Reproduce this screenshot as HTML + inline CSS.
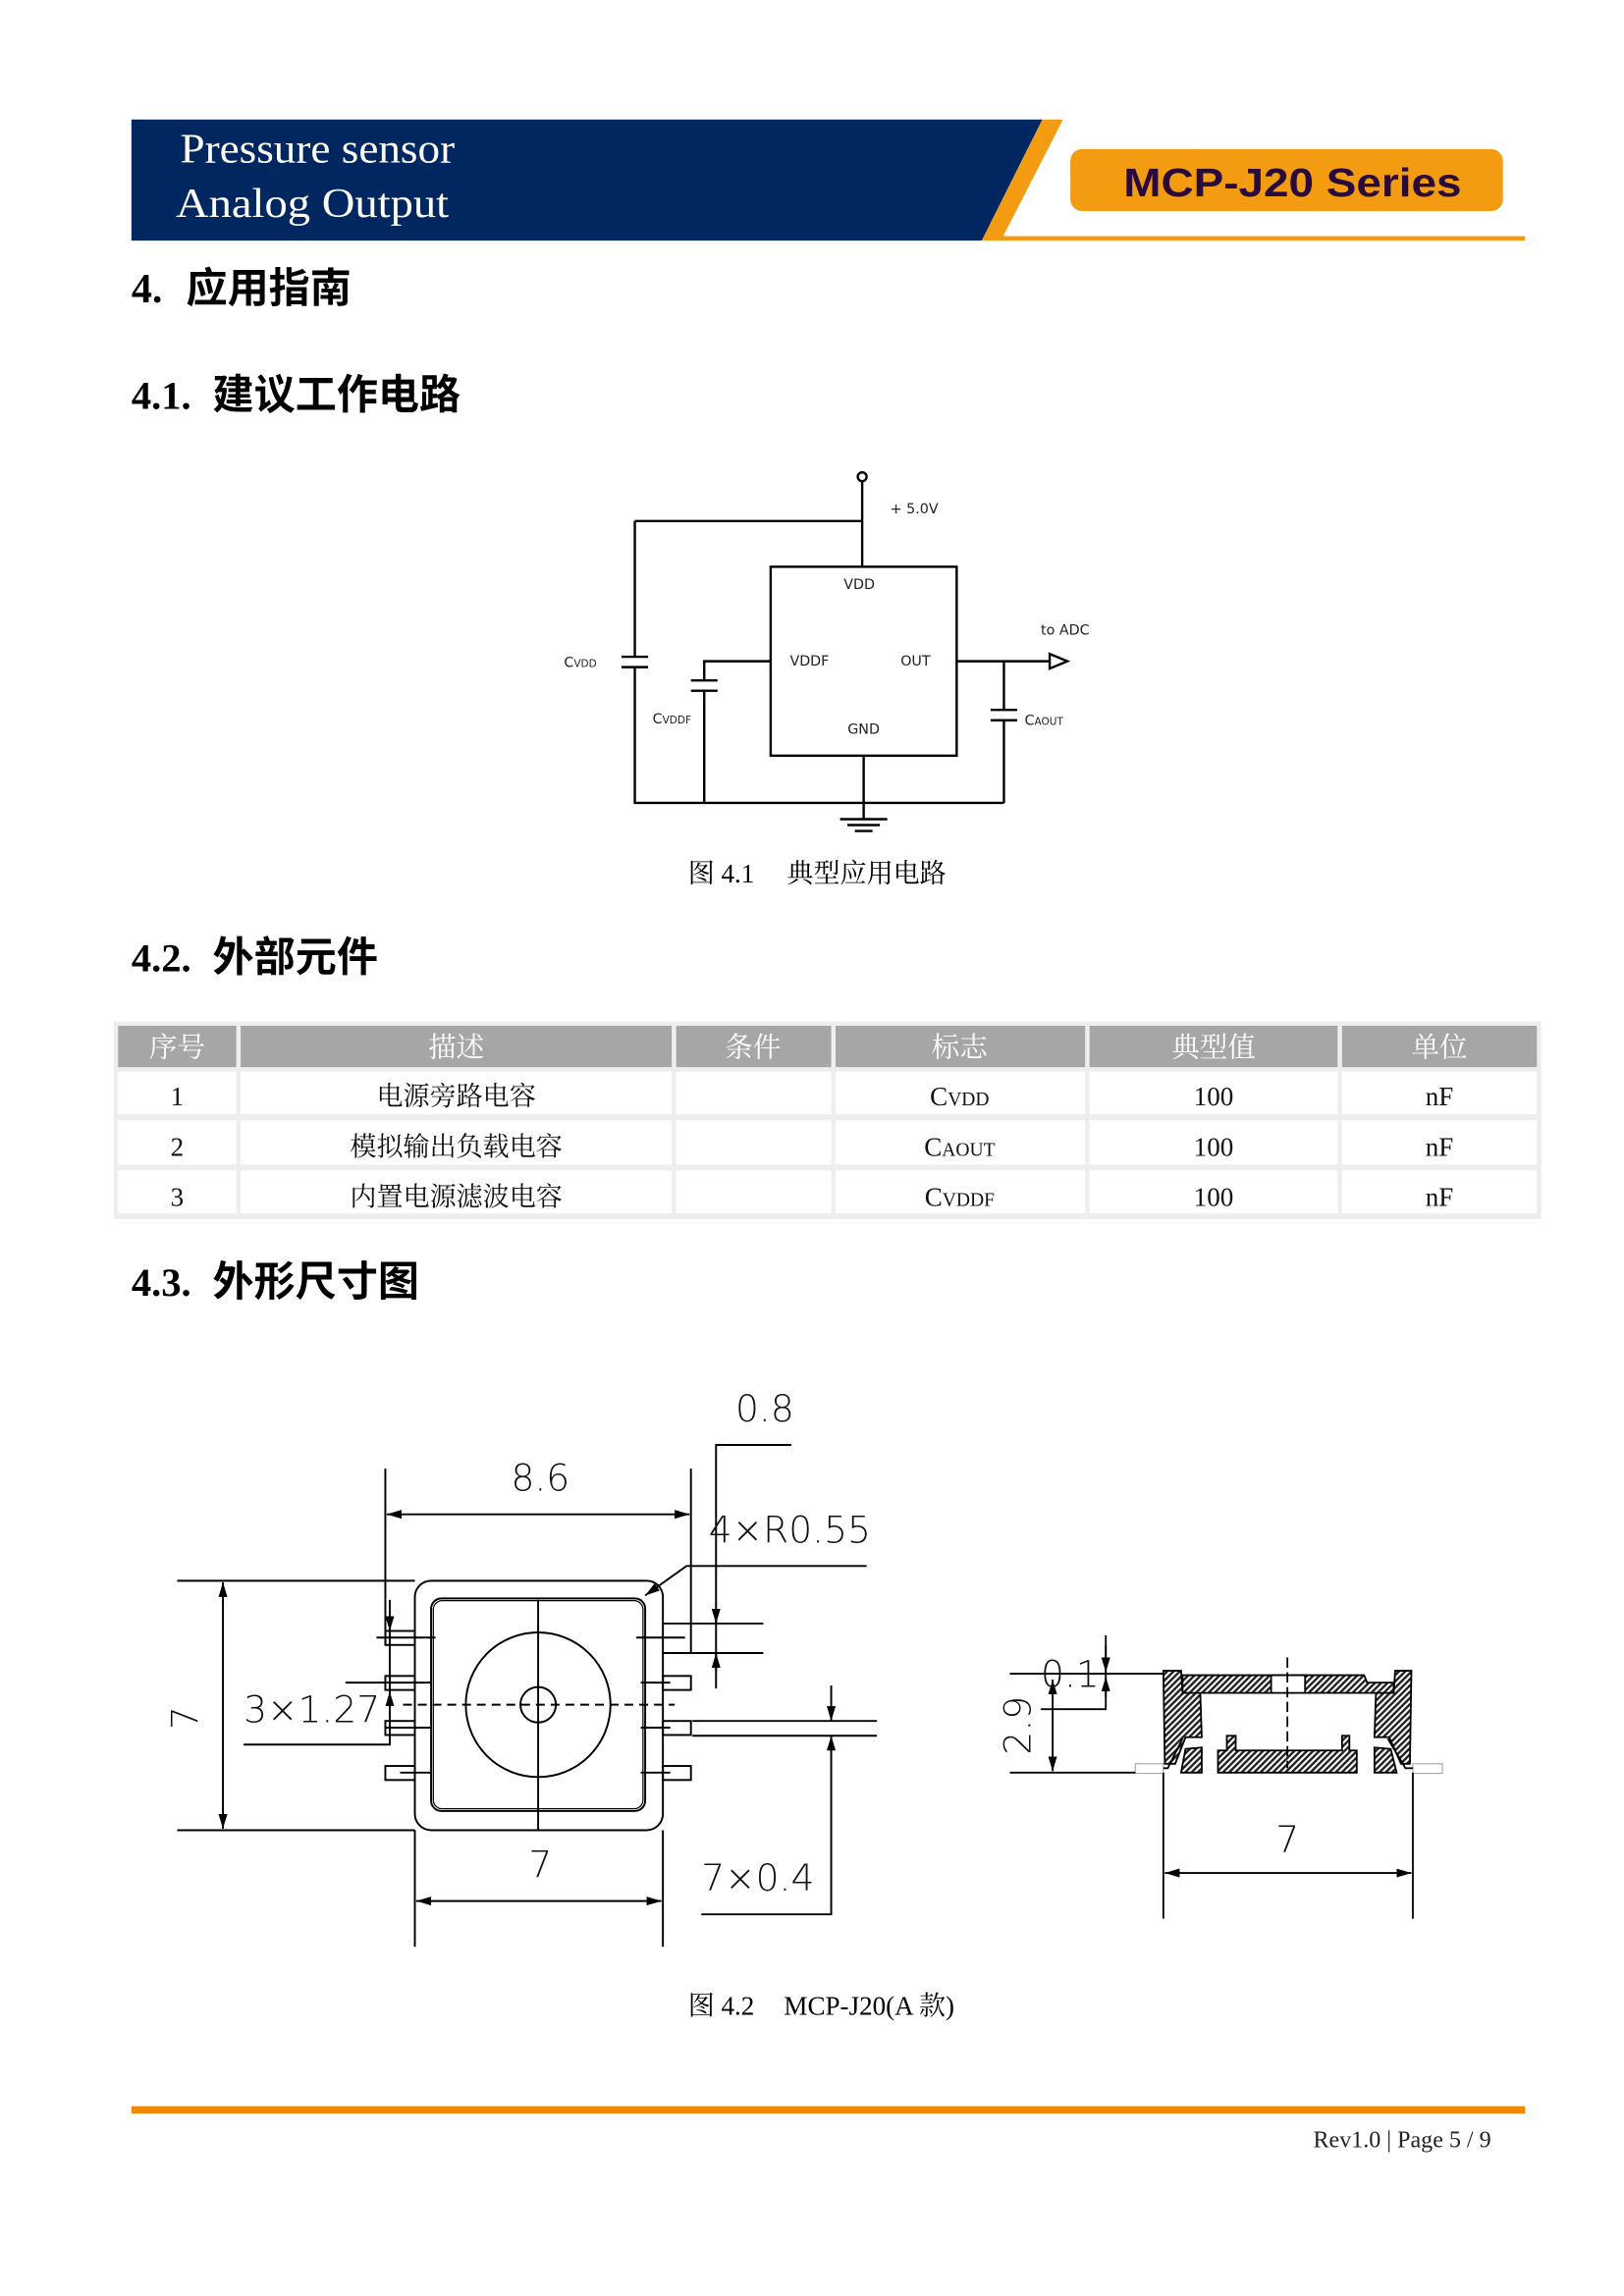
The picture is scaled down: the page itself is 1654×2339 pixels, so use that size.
<!DOCTYPE html>
<html><head><meta charset="utf-8"><style>
html,body{margin:0;padding:0;background:#fff}
svg{display:block}
.s{font-family:"Liberation Serif","Noto Serif CJK SC","Noto Sans CJK SC",serif}
.h{font-family:"Liberation Serif",serif;font-weight:bold}
.c{font-family:"Noto Sans CJK SC",sans-serif;font-weight:bold}
.a{font-family:"DejaVu Sans","Liberation Sans",sans-serif}
.d{font-family:"DejaVu Sans","Liberation Sans",sans-serif;font-weight:200}
</style></head><body>
<svg width="1654" height="2339" viewBox="0 0 1100 1555.6" xmlns="http://www.w3.org/2000/svg">
<defs>
<pattern id="ht" width="3" height="3" patternUnits="userSpaceOnUse" patternTransform="rotate(45)">
<rect width="3" height="3" fill="#fff"/><rect width="1.6" height="3" fill="#222"/></pattern>
<marker id="ar" viewBox="0 0 10 6" refX="10" refY="3" markerWidth="10" markerHeight="6" markerUnits="userSpaceOnUse" orient="auto-start-reverse"><path d="M0,0L10,3L0,6z" fill="#000"/></marker>
</defs>
<polygon points="89,81 706,81 665,163 89,163" fill="#012761"/>
<polygon points="706,81 720,81 679,161 665,163" fill="#f39c12"/>
<rect x="667" y="160" width="366" height="3" fill="#f39c12"/>
<rect x="725" y="101" width="293" height="42" rx="8" fill="#f39c12"/>
<text x="761" y="133" textLength="229" lengthAdjust="spacingAndGlyphs" font-family="Liberation Sans,sans-serif" font-weight="bold" font-size="27" fill="#2a0a3a">MCP-J20 Series</text>
<text x="122" y="110" textLength="186" lengthAdjust="spacingAndGlyphs" class="s" font-size="28" fill="#fff">Pressure sensor</text>
<text x="119" y="147" textLength="185" lengthAdjust="spacingAndGlyphs" class="s" font-size="28" fill="#fff">Analog Output</text>
<text x="89" y="205" class="h" font-size="28">4.</text><text x="126" y="205" class="c" font-size="28">应用指南</text>
<text x="89" y="277" class="h" font-size="27">4.1.</text><text x="144" y="277" class="c" font-size="28">建议工作电路</text>
<text x="89" y="658" class="h" font-size="27">4.2.</text><text x="144" y="658" class="c" font-size="28">外部元件</text>
<text x="89" y="878" class="h" font-size="27">4.3.</text><text x="144" y="878" class="c" font-size="28">外形尺寸图</text>
<g transform="translate(-4,-3)">
<g stroke="#000" stroke-width="1.6" fill="none">
<circle cx="588" cy="326" r="3"/>
<path d="M588,329V387M434,356H588M434,356V448M434,455V547H684M481,547V471M481,464V451H526M652,451H715M684,451V484M684,491V547M589,515V558"/>
<path d="M425,448H443M425,455H443M472,464H490M472,471H490M675,484H693M675,491H693M573,558H605M578,562H600M583,566H595" />
<rect x="526" y="387" width="126" height="128"/>
<path d="M715,446L727,451L715,456Z"/>
</g>
<g class="a" font-size="9.5" fill="#222">
<text x="607" y="351">+ 5.0V</text>
<text x="586" y="402" text-anchor="middle">VDD</text>
<text x="539" y="454">VDDF</text>
<text x="614" y="454">OUT</text>
<text x="589" y="500" text-anchor="middle">GND</text>
<text x="709" y="433">to ADC</text>
<text x="386" y="455">C<tspan font-size="7">VDD</tspan></text>
<text x="446" y="493">C<tspan font-size="7">VDDF</tspan></text>
<text x="698" y="494">C<tspan font-size="7">AOUT</tspan></text>
</g>
</g>
<text x="466" y="598" class="s" font-size="18">图 4.1</text>
<text x="533" y="598" class="s" font-size="18">典型应用电路</text>
<rect x="77" y="692" width="967" height="134" fill="#eee"/>
<g fill="#a6a6a6">
<rect x="80" y="695" width="80" height="28"/><rect x="163" y="695" width="292" height="28"/><rect x="458" y="695" width="105" height="28"/><rect x="566" y="695" width="169" height="28"/><rect x="738" y="695" width="168" height="28"/><rect x="909" y="695" width="132" height="28"/>
</g>
<g fill="#fff">
<rect x="80" y="726" width="80" height="29"/><rect x="163" y="726" width="292" height="29"/><rect x="458" y="726" width="105" height="29"/><rect x="566" y="726" width="169" height="29"/><rect x="738" y="726" width="168" height="29"/><rect x="909" y="726" width="132" height="29"/>
<rect x="80" y="759" width="80" height="30"/><rect x="163" y="759" width="292" height="30"/><rect x="458" y="759" width="105" height="30"/><rect x="566" y="759" width="169" height="30"/><rect x="738" y="759" width="168" height="30"/><rect x="909" y="759" width="132" height="30"/>
<rect x="80" y="793" width="80" height="29"/><rect x="163" y="793" width="292" height="29"/><rect x="458" y="793" width="105" height="29"/><rect x="566" y="793" width="169" height="29"/><rect x="738" y="793" width="168" height="29"/><rect x="909" y="793" width="132" height="29"/>
</g>
<g class="s" font-size="19" text-anchor="middle" fill="#fff">
<text x="120" y="716">序号</text><text x="309" y="716">描述</text><text x="510" y="716">条件</text><text x="650" y="716">标志</text><text x="822" y="716">典型值</text><text x="975" y="716">单位</text>
</g>
<g class="s" font-size="18" text-anchor="middle" fill="#111">
<text x="120" y="749">1</text><text x="309" y="749">电源旁路电容</text><text x="650" y="749">C<tspan font-size="13">VDD</tspan></text><text x="822" y="749">100</text><text x="975" y="749">nF</text>
<text x="120" y="783">2</text><text x="309" y="783">模拟输出负载电容</text><text x="650" y="783">C<tspan font-size="13">AOUT</tspan></text><text x="822" y="783">100</text><text x="975" y="783">nF</text>
<text x="120" y="817">3</text><text x="309" y="817">内置电源滤波电容</text><text x="650" y="817">C<tspan font-size="13">VDDF</tspan></text><text x="822" y="817">100</text><text x="975" y="817">nF</text>
</g>
<g stroke="#000" stroke-width="1.3" fill="none">
<rect x="281" y="1071" width="168" height="169" rx="11"/>
<rect x="292" y="1083" width="145" height="144" rx="7"/>
<rect x="293.5" y="1084.5" width="142" height="141" rx="6" stroke-width="0.8"/>
<circle cx="364.5" cy="1155" r="49"/>
<circle cx="364.5" cy="1155" r="12"/>
<path d="M364.5,1084V1240"/>
<path d="M273,1155H457" stroke-dasharray="6,4"/>
<rect x="261" y="1105" width="20" height="9.5"/><rect x="261" y="1135.5" width="20" height="9.5"/><rect x="261" y="1166" width="20" height="9.5"/><rect x="261" y="1196.5" width="20" height="9.5"/>
<rect x="449" y="1135.5" width="19" height="9.5"/><rect x="449" y="1166" width="19" height="9.5"/><rect x="449" y="1196.5" width="19" height="9.5"/>
<path d="M255,1109.5H295M234,1140H292M261,1170.5H292M271,1201H292M431,1109.5H464M434,1140H454M434,1170.5H454M434,1201H454"/>
<path d="M261,995V1114M468,995V1120"/>
<path d="M262,1026H467" marker-start="url(#ar)" marker-end="url(#ar)"/>
<path d="M120,1071H281M120,1240H281"/>
<path d="M151,1072V1239" marker-start="url(#ar)" marker-end="url(#ar)"/>
<path d="M165,1182H264V1084"/>
<path d="M264,1092V1105" marker-end="url(#ar)"/>
<path d="M264,1158V1146" marker-end="url(#ar)"/>
<path d="M281,1240V1319M449,1240V1319"/>
<path d="M282,1288H448" marker-start="url(#ar)" marker-end="url(#ar)"/>
<path d="M449,1100H517M449,1120H517M536,979H485V1144"/>
<path d="M485,1090V1100" marker-end="url(#ar)"/>
<path d="M485,1132V1120" marker-end="url(#ar)"/>
<path d="M587,1061H465L437,1081" marker-end="url(#ar)"/>
<path d="M469,1166H594M469,1176H594M475,1297H563V1176"/>
<path d="M563,1142V1166" marker-end="url(#ar)"/>
<path d="M563,1190V1176" marker-end="url(#ar)"/>
</g>
<g class="d" font-size="25" fill="#111">
<text x="366" y="1010" text-anchor="middle">8.6</text>
<text x="518" y="963" text-anchor="middle">0.8</text>
<text x="480" y="1045">4×R0.55</text>
<text x="165" y="1167">3×1.27</text>
<text x="366" y="1272" text-anchor="middle">7</text>
<text x="475" y="1281">7×0.4</text>
<text transform="translate(134,1164) rotate(-90)" text-anchor="middle">7</text>
</g>
<g stroke="#000" stroke-width="1.2">
<rect x="769" y="1195" width="19" height="6.5" fill="#fff" stroke="#aaa" stroke-width="0.8"/>
<rect x="957" y="1195" width="20" height="6.5" fill="#fff" stroke="#aaa" stroke-width="0.8"/>
<polygon points="788,1132 800,1132 801,1147 813,1147 814,1177 803,1177 796,1195 789,1195" fill="url(#ht)"/>
<polygon points="945,1132 956,1132 955,1195 949,1195 941,1177 931,1177 932,1147 944,1147" fill="url(#ht)"/>
<polygon points="801,1135 924,1135 926,1140 944,1140 944,1147 801,1147" fill="url(#ht)"/>
<rect x="861" y="1135" width="23" height="12" fill="#fff"/>
<polygon points="800,1201 803,1185 814,1184 814,1201" fill="url(#ht)"/>
<polygon points="931,1184 942,1185 946,1201 931,1201" fill="url(#ht)"/>
<polygon points="825,1201 825,1186 831,1186 831,1176 837,1176 837,1186 909,1186 909,1176 914,1176 914,1186 919,1186 919,1201" fill="url(#ht)"/>
</g>
<g stroke="#000" stroke-width="1.2" fill="none">
<path d="M801,1178L791,1198H788M940,1178L952,1198H957"/>
<path d="M872,1123V1198" stroke-dasharray="7,3"/>
<path d="M684,1134H788M684,1201H769M705,1158H749V1108"/>
<path d="M749,1115V1133" marker-end="url(#ar)"/>
<path d="M749,1150V1136" marker-end="url(#ar)"/>
<path d="M713,1138V1200" marker-start="url(#ar)" marker-end="url(#ar)"/>
<path d="M788,1201V1300M957,1201V1300"/>
<path d="M789,1269H956" marker-start="url(#ar)" marker-end="url(#ar)"/>
</g>
<g class="d" font-size="25" fill="#111">
<text x="705" y="1143">0.1</text>
<text x="872" y="1255" text-anchor="middle">7</text>
<text transform="translate(698,1169) rotate(-90)" text-anchor="middle">2.9</text>
</g>
<text x="466" y="1365" class="s" font-size="18">图 4.2</text>
<text x="531" y="1365" class="s" font-size="18">MCP-J20(A 款)</text>
<rect x="89" y="1427" width="944" height="5" fill="#ef8a00"/>
<text x="1010" y="1455" text-anchor="end" class="s" font-size="16" fill="#222">Rev1.0 | Page 5 / 9</text>
</svg>
</body></html>
